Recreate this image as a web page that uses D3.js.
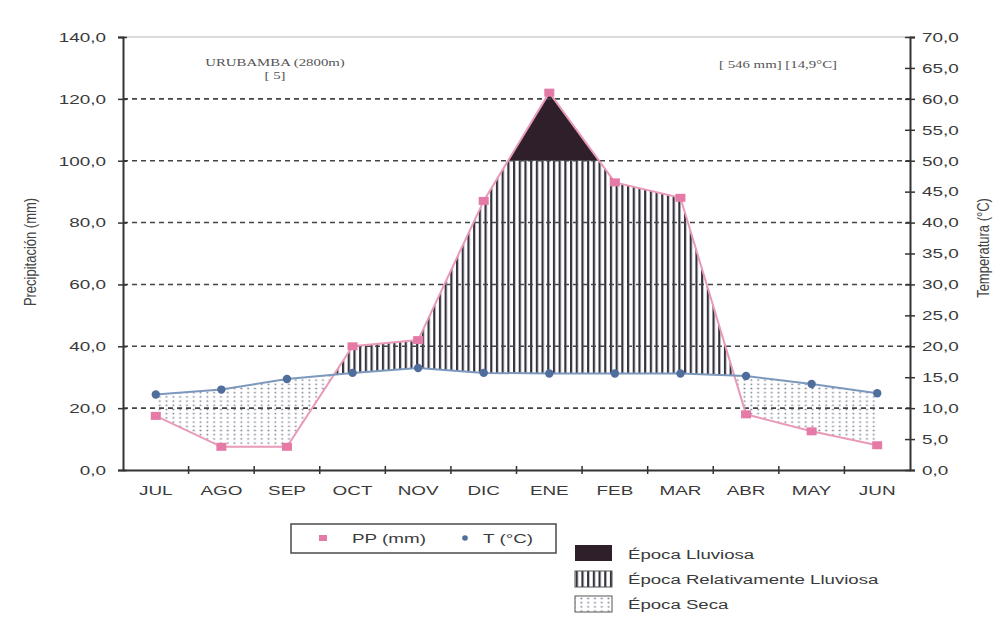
<!DOCTYPE html>
<html><head><meta charset="utf-8">
<script src="https://cdn.jsdelivr.net/npm/d3@7"></script>
<style>body{margin:0;background:#fff;}svg{display:block;}</style>
</head><body>
<svg id="c" width="1003" height="635"></svg>
<script>
const months = ["JUL","AGO","SEP","OCT","NOV","DIC","ENE","FEB","MAR","ABR","MAY","JUN"];
const precip = [17.5, 7.5, 7.5, 40.0, 42.0, 87.0, 122.0, 93.0, 88.0, 18.0, 12.5, 8.0];
const temp = [12.2, 13.0, 14.7, 15.7, 16.5, 15.7, 15.6, 15.6, 15.6, 15.2, 13.9, 12.4];
const leftTicks = [0,20,40,60,80,100,120,140];
const rightTicks = [0,5,10,15,20,25,30,35,40,45,50,55,60,65,70];
const gridTicks = [20,40,60,80,100,120];
const wetThreshold = 100;
const legendSeries = ["PP (mm)","T (°C)"];
const legendSeasons = ["Época Lluviosa","Época Relativamente Lluviosa","Época Seca"];

const svg = d3.select("#c");
const L = 123, R = 910, T0 = 37, B = 470;
const SX = 1.4;
const sans = "Liberation Sans, Arial, sans-serif";
const serif = "Liberation Serif, Times New Roman, serif";
const x = d3.scaleBand().domain(months).range([L, R]);
const xc = m => x(m) + x.bandwidth()/2;
const yL = d3.scaleLinear().domain([0,140]).range([B, T0]);
const yR = d3.scaleLinear().domain([0,70]).range([B, T0]);
const fmt = v => d3.format(".1f")(v).replace(".", ",");

const defs = svg.append("defs");
const stripes = defs.append("pattern").attr("id","stripes").attr("patternUnits","userSpaceOnUse")
  .attr("width",5.7).attr("height",10);
stripes.append("rect").attr("x",0).attr("y",0).attr("width",2.2).attr("height",10).attr("fill","#35323f");
const dots = defs.append("pattern").attr("id","dots").attr("patternUnits","userSpaceOnUse")
  .attr("width",6.8).attr("height",4.2);
dots.append("rect").attr("x",2.5).attr("y",1.4).attr("width",1.7).attr("height",1.4).attr("fill","#737992");

const pPts = months.map((m,i)=>[xc(m), yL(precip[i])]);
const tPts = months.map((m,i)=>[xc(m), yR(temp[i])]);
const line = d3.line();
const polyUnder = pts => line([...pts, [pts[pts.length-1][0], B], [pts[0][0], B]]) + "Z";
const polyOver = pts => line([...pts, [pts[pts.length-1][0], T0], [pts[0][0], T0]]) + "Z";

defs.append("clipPath").attr("id","underT").append("path").attr("d", polyUnder(tPts));
defs.append("clipPath").attr("id","underP").append("path").attr("d", polyUnder(pPts));
defs.append("clipPath").attr("id","belowWet").append("rect")
  .attr("x", L).attr("y", yL(wetThreshold)).attr("width", R-L).attr("height", B-yL(wetThreshold));
defs.append("clipPath").attr("id","aboveWet").append("rect")
  .attr("x", L).attr("y", T0).attr("width", R-L).attr("height", yL(wetThreshold)-T0);

// dry season
svg.append("g").attr("clip-path","url(#underT)")
  .append("path").attr("d", polyOver(pPts)).attr("fill","url(#dots)");
// relatively rainy
svg.append("g").attr("clip-path","url(#underP)")
  .append("g").attr("clip-path","url(#belowWet)")
  .append("path").attr("d", polyOver(tPts)).attr("fill","url(#stripes)");
// rainy
svg.append("g").attr("clip-path","url(#aboveWet)")
  .append("path").attr("d", polyUnder(pPts)).attr("fill","#2e1f2b");

svg.append("line").attr("x1",L).attr("x2",R).attr("y1",yL(140)).attr("y2",yL(140))
  .attr("stroke","#cfcfd4").attr("stroke-width",1.5);
svg.append("g").selectAll("line").data(gridTicks).join("line")
  .attr("x1",L).attr("x2",R).attr("y1",d=>yL(d)).attr("y2",d=>yL(d))
  .attr("stroke","#444").attr("stroke-width",1.6).attr("stroke-dasharray","5,4");

const axisCol = "#333";
const gl = svg.append("g").attr("transform",`translate(${L},0)`)
  .call(d3.axisLeft(yL).tickValues(leftTicks).tickFormat(fmt).tickSize(5));
const gr = svg.append("g").attr("transform",`translate(${R},0)`)
  .call(d3.axisRight(yR).tickValues(rightTicks).tickFormat(fmt).tickSize(5));
const gb = svg.append("g").attr("transform",`translate(0,${B})`)
  .call(d3.axisBottom(x).tickSize(0).tickPadding(15));
[gl,gr,gb].forEach(g=>{
  g.select(".domain").attr("stroke",axisCol).attr("stroke-width",2);
  g.selectAll("text").attr("font-family",sans).attr("font-size",13.5).attr("fill","#3a3a3a");
});
gl.selectAll(".tick text").attr("x",0).attr("transform",`translate(-17,0) scale(${SX},1)`);
gr.selectAll(".tick text").attr("x",0).attr("transform",`translate(12,0) scale(${SX},1)`);
gb.selectAll(".tick text").attr("transform",`scale(${SX},1)`).attr("x",0);
gl.selectAll(".tick line").attr("stroke",axisCol).attr("stroke-width",1.5).attr("x2",4).attr("x1",-5);
gr.selectAll(".tick line").attr("stroke",axisCol).attr("stroke-width",1.5).attr("x1",-5).attr("x2",5);
svg.append("g").selectAll("line").data(months.slice(1)).join("line")
  .attr("x1",d=>x(d)).attr("x2",d=>x(d)).attr("y1",B-4).attr("y2",B+4)
  .attr("stroke",axisCol).attr("stroke-width",1.5);

svg.append("path").attr("d", line(pPts)).attr("fill","none").attr("stroke","#e99ab8").attr("stroke-width",2);
svg.append("path").attr("d", line(tPts)).attr("fill","none").attr("stroke","#7d98bd").attr("stroke-width",2);
svg.append("g").selectAll("rect").data(pPts).join("rect")
  .attr("x",d=>d[0]-5).attr("y",d=>d[1]-4).attr("width",10).attr("height",8).attr("fill","#e57aa6");
svg.append("g").selectAll("circle").data(tPts).join("circle")
  .attr("cx",d=>d[0]).attr("cy",d=>d[1]).attr("r",4.2).attr("fill","#4f6e9c");

function txt(g, px, py, s, o){
  return g.append("text").attr("transform",`translate(${px},${py}) ${o.rot?`rotate(${o.rot})`:""} scale(${o.sx||1},${o.sy||1})`)
    .attr("text-anchor",o.anchor||"start").attr("font-family",o.font||sans)
    .attr("font-size",o.size||13.5).attr("fill",o.fill||"#3a3a3a").text(s);
}
txt(svg, 36, 252, "Precipitación (mm)", {rot:-90, anchor:"middle", size:13, fill:"#444", sy:1.2});
txt(svg, 989, 248, "Temperatura (°C)", {rot:-90, anchor:"middle", size:13, fill:"#444", sy:1.2});

txt(svg, 275, 66, "URUBAMBA (2800m)", {anchor:"middle", font:serif, size:11, sx:1.35, fill:"#555"});
txt(svg, 275, 79, "[ 5]", {anchor:"middle", font:serif, size:11, sx:1.35, fill:"#555"});
txt(svg, 778, 68, "[ 546 mm] [14,9°C]", {anchor:"middle", font:serif, size:11, sx:1.35, fill:"#555"});

const lg = svg.append("g");
lg.append("rect").attr("x",291).attr("y",524).attr("width",265).attr("height",29)
  .attr("fill","#fff").attr("stroke","#555").attr("stroke-width",1.6);
lg.append("rect").attr("x",319).attr("y",535).attr("width",8).attr("height",6).attr("fill","#e57aa6");
lg.append("circle").attr("cx",465).attr("cy",538).attr("r",2.8).attr("fill","#4f6e9c");
legendSeries.forEach((d,i)=> txt(lg, [352,483][i], 543, d, {size:13, sx:1.45}));

const l2 = svg.append("g");
const sw = [{y:545, fill:"#2e1f2b"},{y:571, fill:"url(#stripes)"},{y:596, fill:"url(#dots)"}];
l2.selectAll("rect").data(sw).join("rect")
  .attr("x",575).attr("y",d=>d.y).attr("width",37).attr("height",16)
  .attr("fill",d=>d.fill).attr("stroke",(d,i)=>i===0?"none":"#555").attr("stroke-width",1);
legendSeasons.forEach((d,i)=> txt(l2, 628, [559,584,609][i], d, {size:13.5, sx:1.38}));
</script>
</body></html>
